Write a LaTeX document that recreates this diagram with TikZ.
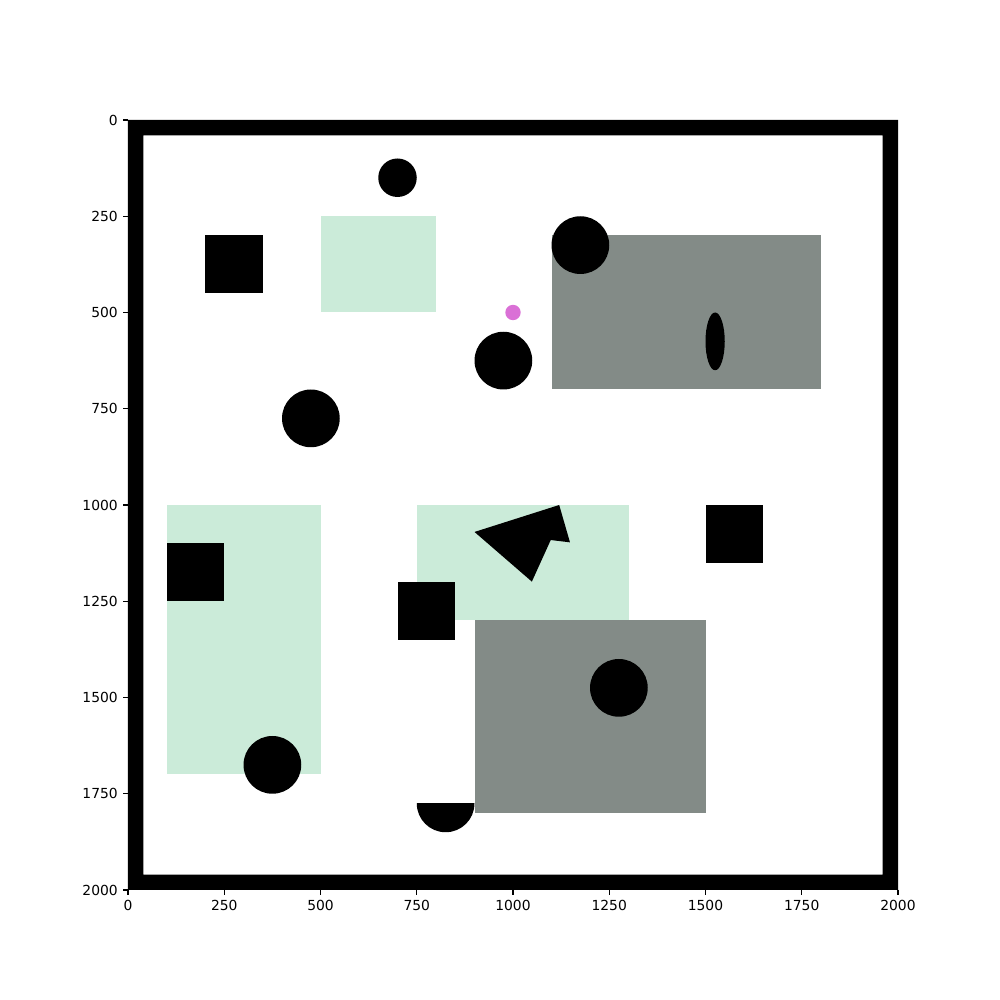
\documentclass[tikz,border=0pt]{standalone}
\usepackage{fontspec}
\setmainfont{DejaVu Sans}
\usetikzlibrary{positioning}
\definecolor{zonegreen}{RGB}{203,235,217}
\definecolor{zonegray}{RGB}{131,139,135}
\definecolor{goalpink}{RGB}{218,112,214}
\begin{document}
\begin{tikzpicture}[
  x=0.00385in, y=-0.00385in,
  font=\fontsize{10}{12}\selectfont,
  tickline/.style={line width=0.8pt},
  ticklabel/.style={inner sep=0pt},
]
  \useasboundingbox (-332.47,-311.69) rectangle (2264.94,2285.71);

  % Free zones
  \fill[zonegreen] (500,250) rectangle (800,500);
  \fill[zonegreen] (100,1000) rectangle (500,1700);
  \fill[zonegreen] (750,1000) rectangle (1300,1300);
  \fill[zonegray] (1100,300) rectangle (1800,700);
  \fill[zonegray] (900,1300) rectangle (1500,1800);

  % Obstacles
  \fill (700,150) circle[radius=50];
  \fill (1175,325) circle[radius=75];
  \fill (975,625) circle[radius=75];
  \fill (475,775) circle[radius=75];
  \fill (1275,1475) circle[radius=75];
  \fill (375,1675) circle[radius=75];
  \fill (1525,575) circle[x radius=25, y radius=75];
  \fill (200,300) rectangle (350,450);
  \fill (100,1100) rectangle (250,1250);
  \fill (700,1200) rectangle (850,1350);
  \fill (1500,1000) rectangle (1650,1150);
  \fill (900,1070) -- (1120,1000) -- (1148,1097) -- (1098,1091) -- (1049,1199) -- cycle;
  \begin{scope}
    \clip (740,1775) rectangle (910,1870);
    \fill (825,1775) circle[radius=75];
  \end{scope}

  % Goal
  \fill[goalpink] (1000,500) circle[radius=20];

  % Walls
  \fill[black, even odd rule] (0,0) rectangle (2000,2000) (40,40) rectangle (1960,1960);

  % Ticks
  \foreach \t in {0,250,500,750,1000,1250,1500,1750,2000} {
    \draw[tickline] (\t,2000) -- ++(0,-3.5pt)
      node[below=3.5pt, ticklabel] (xt\t) {\t};
    \draw[tickline] (0,\t) -- ++(-3.5pt,0)
      node[left=3.5pt, ticklabel] (yt\t) {\t};
  }
\end{tikzpicture}
\end{document}
